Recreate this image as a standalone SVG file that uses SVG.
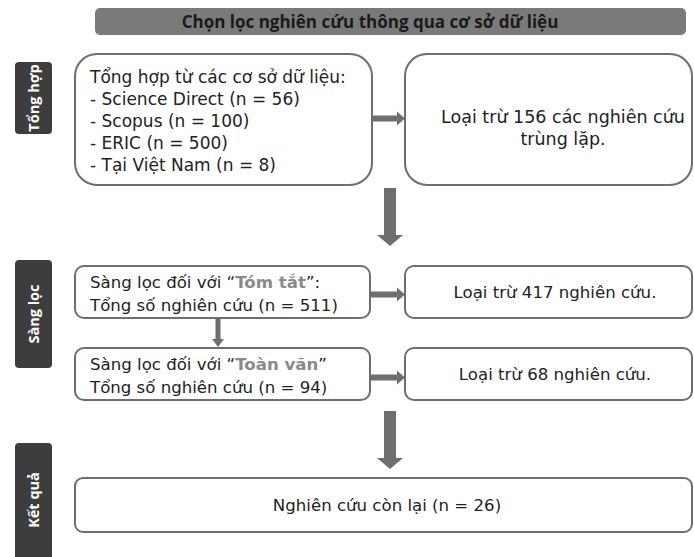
<svg xmlns="http://www.w3.org/2000/svg" width="694" height="557" viewBox="0 0 694 557">
<style>
.box{fill:#fff;stroke:#6e6e6e;stroke-width:2}
.side{fill:#3d3d3d}
.sidet{fill:#fff;font-family:"Open Sans","Noto Sans",sans-serif;font-weight:700;font-size:14.5px;text-anchor:middle}
.t{fill:#222;font-family:"DejaVu Sans","Open Sans",sans-serif;font-size:16.6px}
.t1{font-size:17px}
.t3{font-size:17.5px}
.c{text-anchor:middle}
.hl{fill:#8a8a8a;font-weight:700}
.arr{fill:#6e6e6e}
</style>
<g id="title">
<rect x="95" y="8" width="591" height="27" rx="5" fill="#7a7a7a"/>
<text x="370" y="27.5" style="font-family:'Open Sans','Noto Sans',sans-serif;font-weight:700;font-size:17px;fill:#1a1a1a;text-anchor:middle">Chọn lọc nghiên cứu thông qua cơ sở dữ liệu</text>
</g>
<g id="label-tonghop">
<rect class="side" x="15" y="62" width="37" height="72" rx="4"/>
<text class="sidet" transform="translate(38.5,98) rotate(-90)">Tổng hợp</text>
</g>
<g id="label-sangloc">
<rect class="side" x="15" y="260" width="37" height="108" rx="4"/>
<text class="sidet" transform="translate(38.5,314) rotate(-90)">Sàng lọc</text>
</g>
<g id="label-ketqua">
<rect class="side" x="15" y="443" width="37" height="125" rx="4"/>
<text class="sidet" transform="translate(38.5,500) rotate(-90)">Kết quả</text>
</g>
<g id="node-tonghop">
<rect class="box" x="75" y="54" width="297" height="131" rx="22"/>
<text class="t t1" x="90" y="83">Tổng hợp từ các cơ sở dữ liệu:</text>
<text class="t t1" x="90" y="105">- Science Direct (n = 56)</text>
<text class="t t1" x="90" y="127">- Scopus (n = 100)</text>
<text class="t t1" x="90" y="149">- ERIC (n = 500)</text>
<text class="t t1" x="90" y="171">- Tại Việt Nam (n = 8)</text>
</g>
<g id="node-trunglap">
<rect class="box" x="405" y="54" width="287" height="131" rx="22"/>
<text class="t t3 c" x="563" y="123">Loại trừ 156 các nghiên cứu</text>
<text class="t t3 c" x="563" y="145">trùng lặp.</text>
</g>
<g id="node-tomtat">
<rect class="box" x="75" y="266" width="295" height="52" rx="9"/>
<text class="t" x="90" y="288">Sàng lọc đối với “<tspan class="hl">Tóm tắt</tspan>”:</text>
<text class="t" x="90" y="311">Tổng số nghiên cứu (n = 511)</text>
</g>
<g id="node-loai417">
<rect class="box" x="405" y="266" width="287" height="52" rx="9"/>
<text class="t c" x="555" y="298">Loại trừ 417 nghiên cứu.</text>
</g>
<g id="node-toanvan">
<rect class="box" x="75" y="348" width="295" height="52" rx="9"/>
<text class="t" x="90" y="370">Sàng lọc đối với “<tspan class="hl">Toàn văn</tspan>”</text>
<text class="t" x="90" y="393">Tổng số nghiên cứu (n = 94)</text>
</g>
<g id="node-loai68">
<rect class="box" x="405" y="348" width="287" height="52" rx="9"/>
<text class="t c" x="555" y="380">Loại trừ 68 nghiên cứu.</text>
</g>
<g id="node-ketqua">
<rect class="box" x="75" y="478" width="617" height="54" rx="8"/>
<text class="t c" x="387" y="511">Nghiên cứu còn lại (n = 26)</text>
</g>
<g id="connectors">
<path class="arr" d="M372 115.5 H397 V111.5 L405 118.5 L397 125.5 V121.5 H372 Z"/>
<path class="arr" d="M370 291.5 H397 V287.5 L405 294.5 L397 301.5 V297.5 H370 Z"/>
<path class="arr" d="M370 374.5 H397 V370.5 L405 377.5 L397 384.5 V380.5 H370 Z"/>
<path class="arr" d="M215.5 318 H220.5 V339 H224 L218 347 L212 339 H215.5 Z"/>
<path class="arr" d="M384 188 H396 V235 H403 L390 246 L377 235 H384 Z"/>
<path class="arr" d="M384 411 H396 V458 H403 L390 469 L377 458 H384 Z"/>
</g>
</svg>
